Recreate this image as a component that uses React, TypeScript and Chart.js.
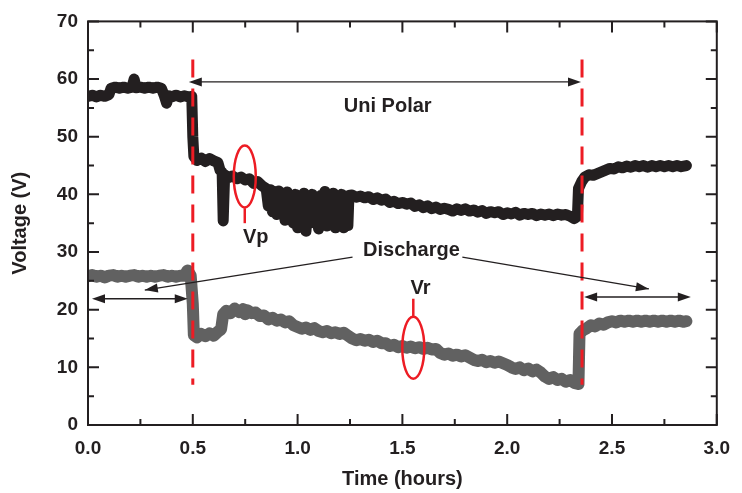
import React, { useEffect, useRef } from "react";
import { Chart, registerables } from "chart.js";

Chart.register(...registerables);

// ---- Data ----
const vpHours = [
  0.0, 0.02, 0.04, 0.06, 0.08, 0.1, 0.11, 0.13, 0.15, 0.17, 0.19, 0.21, 0.22, 0.23, 0.25, 0.27, 0.29, 0.31, 0.33, 0.35,
  0.365, 0.375, 0.385, 0.4, 0.42, 0.44, 0.46, 0.48, 0.495, 0.5, 0.505, 0.52, 0.54, 0.56, 0.58, 0.6, 0.62, 0.63, 0.64,
  0.645, 0.652, 0.67, 0.69, 0.71, 0.73, 0.75, 0.77, 0.79, 0.81, 0.83, 0.85, 0.86, 0.87, 0.88, 0.89, 0.9, 0.91, 0.92,
  0.93, 0.94, 0.95, 0.96, 0.97, 0.98, 0.99, 1.0, 1.01, 1.02, 1.03, 1.04, 1.05, 1.06, 1.07, 1.08, 1.09, 1.1, 1.11, 1.12,
  1.13, 1.14, 1.15, 1.16, 1.17, 1.18, 1.19, 1.2, 1.21, 1.22, 1.23, 1.24, 1.245, 1.26, 1.28, 1.3, 1.32, 1.34, 1.36,
  1.38, 1.4, 1.42, 1.44, 1.46, 1.48, 1.5, 1.52, 1.54, 1.56, 1.58, 1.6, 1.62, 1.64, 1.66, 1.68, 1.7, 1.72, 1.74, 1.76,
  1.78, 1.8, 1.82, 1.84, 1.86, 1.88, 1.9, 1.92, 1.94, 1.96, 1.98, 2.0, 2.02, 2.04, 2.06, 2.08, 2.1, 2.12, 2.14, 2.16,
  2.18, 2.2, 2.22, 2.24, 2.26, 2.28, 2.3, 2.32, 2.335, 2.34, 2.355, 2.37, 2.39, 2.41, 2.43, 2.45, 2.47, 2.49, 2.51,
  2.53, 2.55, 2.57, 2.59, 2.61, 2.63, 2.65, 2.67, 2.69, 2.71, 2.73, 2.75, 2.77, 2.79, 2.81, 2.83, 2.855,
];
const vpVolts = [
  57.0, 57.2, 56.9, 57.2, 57.0, 57.3, 58.4, 58.6, 58.4, 58.6, 58.4, 58.6, 60.0, 58.5, 58.6, 58.4, 58.6, 58.4, 58.6, 58.4,
  57.0, 55.8, 57.1, 56.9, 57.2, 56.9, 57.1, 56.9, 57.0, 50.0, 46.6, 45.9, 46.3, 45.7, 46.2, 45.8, 45.5, 44.2, 43.8,
  35.4, 43.4, 42.9, 43.2, 42.7, 43.0, 42.5, 42.7, 41.9, 42.2, 41.5, 41.0, 38.0, 40.8, 37.0, 40.5, 36.5, 40.6, 37.8,
  40.2, 35.5, 40.4, 36.2, 39.8, 35.0, 40.0, 34.2, 39.6, 36.0, 40.2, 33.6, 39.5, 35.0, 40.0, 36.5, 39.2, 34.0, 39.8, 35.5,
  40.5, 34.5, 39.0, 35.8, 40.2, 34.2, 39.5, 35.0, 40.0, 34.2, 38.5, 34.6, 39.8, 39.9, 39.5, 39.7, 39.4, 39.6, 39.1,
  39.4, 39.0, 39.2, 38.6, 38.8, 38.4, 38.6, 38.3, 38.5, 37.9, 38.2, 37.7, 38.0, 37.5, 37.8, 37.4, 37.6, 37.4, 37.1, 37.5,
  37.2, 37.5, 37.1, 37.3, 36.9, 37.2, 36.7, 37.0, 36.8, 37.0, 36.5, 36.8, 36.6, 36.9, 36.4, 36.7, 36.5, 36.7, 36.3, 36.6,
  36.4, 36.6, 36.3, 36.6, 36.4, 36.5, 36.2, 35.8, 36.2, 41.0, 42.2, 43.0, 43.4, 43.3, 43.6, 43.9, 44.2, 44.5, 44.4,
  44.8, 44.6, 44.9, 44.7, 45.0, 44.8, 45.0, 44.7, 45.0, 44.8, 45.0, 44.8, 45.0, 44.8, 45.0, 44.8, 45.0,
];

const vrHours = [
  0.0, 0.02, 0.04, 0.06, 0.08, 0.1, 0.12, 0.14, 0.16, 0.18, 0.2, 0.22, 0.24, 0.26, 0.28, 0.3, 0.32, 0.34, 0.36, 0.38,
  0.4, 0.42, 0.44, 0.46, 0.475, 0.49, 0.5, 0.505, 0.52, 0.54, 0.56, 0.58, 0.6, 0.62, 0.635, 0.645, 0.66, 0.68, 0.7,
  0.72, 0.74, 0.75, 0.76, 0.78, 0.8, 0.82, 0.84, 0.86, 0.88, 0.9, 0.92, 0.94, 0.96, 0.98, 1.0, 1.02, 1.04, 1.06, 1.08,
  1.1, 1.12, 1.14, 1.16, 1.18, 1.2, 1.22, 1.24, 1.26, 1.28, 1.3, 1.32, 1.34, 1.36, 1.38, 1.4, 1.42, 1.44, 1.46, 1.48,
  1.5, 1.52, 1.54, 1.56, 1.58, 1.6, 1.62, 1.64, 1.66, 1.68, 1.7, 1.72, 1.74, 1.76, 1.78, 1.8, 1.82, 1.84, 1.86, 1.88,
  1.9, 1.92, 1.94, 1.96, 1.98, 2.0, 2.02, 2.04, 2.06, 2.08, 2.1, 2.12, 2.14, 2.16, 2.18, 2.2, 2.22, 2.24, 2.26, 2.28,
  2.3, 2.32, 2.34, 2.345, 2.36, 2.38, 2.4, 2.42, 2.44, 2.46, 2.48, 2.5, 2.52, 2.54, 2.56, 2.58, 2.6, 2.62, 2.64, 2.66,
  2.68, 2.7, 2.72, 2.74, 2.76, 2.78, 2.8, 2.82, 2.84, 2.855,
];
const vrVolts = [
  25.8, 26.0, 25.7, 25.9, 25.6, 25.9, 26.0, 25.7, 25.9, 25.7, 25.9, 26.0, 25.7, 25.9, 25.7, 25.9, 25.7, 25.9, 26.0, 25.7,
  25.9, 25.7, 25.9, 25.9, 26.8, 25.9, 21.0, 15.6, 15.2, 15.8, 15.4, 15.9, 15.5, 16.2, 16.6, 19.2, 19.8, 19.4, 20.2,
  19.6, 20.1, 19.2, 19.9, 19.4, 19.5, 18.9, 19.0, 18.3, 18.6, 18.1, 18.3, 17.8, 18.0, 17.3, 17.0, 16.7, 16.9, 16.5, 16.8,
  16.3, 16.1, 16.3, 15.9, 16.1, 15.8, 16.0, 15.5, 15.0, 14.7, 14.9, 14.6, 14.8, 14.4, 14.6, 14.2, 14.2, 13.7, 13.9, 13.5,
  13.7, 13.4, 13.6, 13.3, 13.5, 13.2, 13.4, 13.1, 13.2, 12.5, 12.2, 12.4, 12.0, 12.2, 11.9, 12.1, 11.7, 11.3, 11.1, 11.3,
  10.9, 11.1, 10.8, 11.0, 10.7, 10.4, 10.0, 9.7, 10.0, 9.5, 9.8, 9.3, 9.6, 9.1, 8.4, 8.0, 8.3, 7.8, 8.0, 7.5,
  7.8, 7.3, 7.1, 15.8, 16.4, 16.8, 17.3, 17.1, 17.6, 17.4, 17.8, 18.0, 17.8, 18.1, 17.9, 18.1, 17.9, 18.1, 17.9, 18.1,
  17.9, 18.1, 17.9, 18.1, 17.9, 18.1, 17.9, 18.1, 17.9, 18.0,
];

// axis ticks
const xTickValues = [0, 0.5, 1.0, 1.5, 2.0, 2.5, 3.0];
const yTickValues = [0, 10, 20, 30, 40, 50, 60, 70];

// annotations (data units)
const switchHours = [0.5, 2.357];
const switchVoltRange = [7.0, 63.4];
const labelTexts = ["Uni Polar", "Vp", "Discharge", "Vr"];
const labelHours = [1.43, 0.8, 1.543, 1.586];
const labelVolts = [55.2, 32.6, 30.3, 23.6];
const ellipseHours = [0.748, 1.552];
const ellipseVolts = [43.1, 13.4];
const stemTopVolts = [37.6, 21.9];
const stemBottomVolts = [35.0, 18.8];
// double arrows: [x1, x2, y]
const doubleArrowStart = [0.481, 0.019, 2.367];
const doubleArrowEnd = [2.352, 0.476, 2.876];
const doubleArrowVolts = [59.5, 21.9, 22.2];
// single arrows from "Discharge"
const arrowFromHours = [1.262, 1.786];
const arrowFromVolts = [29.1, 29.1];
const arrowToHours = [0.271, 2.676];
const arrowToVolts = [23.4, 23.6];

const INK = "#231f20";
const RED = "#ed1c24";
const FONT = "'Liberation Sans', Arial, Helvetica, sans-serif";

function arrowHead(ctx: CanvasRenderingContext2D, x1: number, y1: number, x2: number, y2: number) {
  const ang = Math.atan2(y2 - y1, x2 - x1);
  const len = 13;
  const hw = 4.5;
  ctx.beginPath();
  ctx.moveTo(x2, y2);
  ctx.lineTo(x2 - len * Math.cos(ang) + hw * Math.sin(ang), y2 - len * Math.sin(ang) - hw * Math.cos(ang));
  ctx.lineTo(x2 - len * Math.cos(ang) - hw * Math.sin(ang), y2 - len * Math.sin(ang) + hw * Math.cos(ang));
  ctx.closePath();
  ctx.fill();
}

const framePlugin = {
  id: "frameAndNotes",
  afterDatasetsDraw(chart: any) {
    const { ctx, chartArea: a, scales } = chart;
    const xs = scales.x;
    const ys = scales.y;
    const px = (v: number) => xs.getPixelForValue(v);
    const py = (v: number) => ys.getPixelForValue(v);
    ctx.save();

    // red dashed switch lines
    ctx.strokeStyle = RED;
    ctx.lineWidth = 3;
    ctx.setLineDash([18, 11]);
    switchHours.forEach((h) => {
      ctx.beginPath();
      ctx.moveTo(px(h), py(switchVoltRange[1]));
      ctx.lineTo(px(h), py(switchVoltRange[0]));
      ctx.stroke();
    });
    ctx.setLineDash([]);

    // ellipses and stems
    ctx.lineWidth = 2.5;
    ellipseHours.forEach((h, i) => {
      ctx.beginPath();
      ctx.ellipse(px(h), py(ellipseVolts[i]), 11, 31, 0, 0, Math.PI * 2);
      ctx.stroke();
      ctx.beginPath();
      ctx.moveTo(px(h), py(stemTopVolts[i]));
      ctx.lineTo(px(h), py(stemBottomVolts[i]));
      ctx.stroke();
    });

    // arrows
    ctx.strokeStyle = INK;
    ctx.fillStyle = INK;
    ctx.lineWidth = 1.3;
    doubleArrowStart.forEach((h, i) => {
      const x1 = px(h);
      const x2 = px(doubleArrowEnd[i]);
      const y = py(doubleArrowVolts[i]);
      ctx.beginPath();
      ctx.moveTo(x1 + 6, y);
      ctx.lineTo(x2 - 6, y);
      ctx.stroke();
      arrowHead(ctx, x2 - 10, y, x1, y);
      arrowHead(ctx, x1 + 10, y, x2, y);
    });
    arrowFromHours.forEach((h, i) => {
      const x1 = px(h);
      const y1 = py(arrowFromVolts[i]);
      const x2 = px(arrowToHours[i]);
      const y2 = py(arrowToVolts[i]);
      ctx.beginPath();
      ctx.moveTo(x1, y1);
      ctx.lineTo(x2, y2);
      ctx.stroke();
      arrowHead(ctx, x1, y1, x2, y2);
    });

    // labels
    ctx.font = `bold 20px ${FONT}`;
    ctx.textAlign = "center";
    ctx.textBaseline = "middle";
    labelTexts.forEach((t, i) => {
      ctx.fillText(t, px(labelHours[i]), py(labelVolts[i]));
    });

    // frame
    ctx.strokeStyle = INK;
    ctx.lineWidth = 2;
    ctx.strokeRect(a.left, a.top, a.right - a.left, a.bottom - a.top);

    // inward ticks, all four sides
    const major = 11;
    const minor = 6;
    ctx.lineWidth = 2;
    ctx.beginPath();
    xTickValues.forEach((v, i) => {
      const x = px(v);
      ctx.moveTo(x, a.bottom);
      ctx.lineTo(x, a.bottom - major);
      ctx.moveTo(x, a.top);
      ctx.lineTo(x, a.top + major);
      if (i < xTickValues.length - 1) {
        const xm = px((v + xTickValues[i + 1]) / 2);
        ctx.moveTo(xm, a.bottom);
        ctx.lineTo(xm, a.bottom - minor);
        ctx.moveTo(xm, a.top);
        ctx.lineTo(xm, a.top + minor);
      }
    });
    yTickValues.forEach((v, i) => {
      const y = py(v);
      ctx.moveTo(a.left, y);
      ctx.lineTo(a.left + major, y);
      ctx.moveTo(a.right, y);
      ctx.lineTo(a.right - major, y);
      if (i < yTickValues.length - 1) {
        const ym = py((v + yTickValues[i + 1]) / 2);
        ctx.moveTo(a.left, ym);
        ctx.lineTo(a.left + minor, ym);
        ctx.moveTo(a.right, ym);
        ctx.lineTo(a.right - minor, ym);
      }
    });
    ctx.stroke();
    ctx.restore();
  },
};

export default function App() {
  const canvasRef = useRef<HTMLCanvasElement | null>(null);

  useEffect(() => {
    document.body.style.margin = "0";
    const canvas = canvasRef.current;
    if (!canvas) return;
    const chart = new Chart(canvas, {
      type: "line",
      data: {
        datasets: [
          {
            label: "Vp",
            data: vpHours.map((h, i) => ({ x: h, y: vpVolts[i] })),
            borderColor: INK,
            borderWidth: 11,
            pointRadius: 0,
            borderJoinStyle: "round",
            borderCapStyle: "round",
            tension: 0,
            fill: false,
          },
          {
            label: "Vr",
            data: vrHours.map((h, i) => ({ x: h, y: vrVolts[i] })),
            borderColor: "#616161",
            borderWidth: 12,
            pointRadius: 0,
            borderJoinStyle: "round",
            borderCapStyle: "round",
            tension: 0,
            fill: false,
          },
        ],
      },
      options: {
        responsive: false,
        animation: false,
        events: [],
        layout: { padding: { left: 0, top: 19, right: 24, bottom: 0 } },
        plugins: { legend: { display: false }, tooltip: { enabled: false } },
        scales: {
          x: {
            type: "linear",
            min: 0,
            max: 3,
            grid: { display: false, drawTicks: false },
            border: { display: false },
            afterBuildTicks: (scale: any) => {
              scale.ticks = xTickValues.map((v) => ({ value: v }));
            },
            afterFit: (scale: any) => {
              scale.height = 68;
            },
            ticks: {
              padding: 12,
              color: INK,
              font: { family: FONT, size: 19, weight: "bold" },
              callback: (v: any) => Number(v).toFixed(1),
              maxRotation: 0,
              autoSkip: false,
            },
            title: {
              display: true,
              text: "Time (hours)",
              color: INK,
              font: { family: FONT, size: 20, weight: "bold" },
              padding: { top: 0, bottom: 2 },
            },
          },
          y: {
            type: "linear",
            min: 0,
            max: 70,
            grid: { display: false, drawTicks: false },
            border: { display: false },
            afterBuildTicks: (scale: any) => {
              scale.ticks = yTickValues.map((v) => ({ value: v }));
            },
            afterFit: (scale: any) => {
              scale.width = 88;
            },
            ticks: {
              padding: 10,
              color: INK,
              font: { family: FONT, size: 19, weight: "bold" },
              autoSkip: false,
            },
            title: {
              display: true,
              text: "Voltage (V)",
              color: INK,
              font: { family: FONT, size: 20, weight: "bold" },
              padding: { top: 8, bottom: 0 },
            },
          },
        },
      },
      plugins: [framePlugin],
    } as any);
    return () => chart.destroy();
  }, []);

  return (
    <div style={{ width: 742, height: 493 }}>
      <canvas ref={canvasRef} width={742} height={493} />
    </div>
  );
}
